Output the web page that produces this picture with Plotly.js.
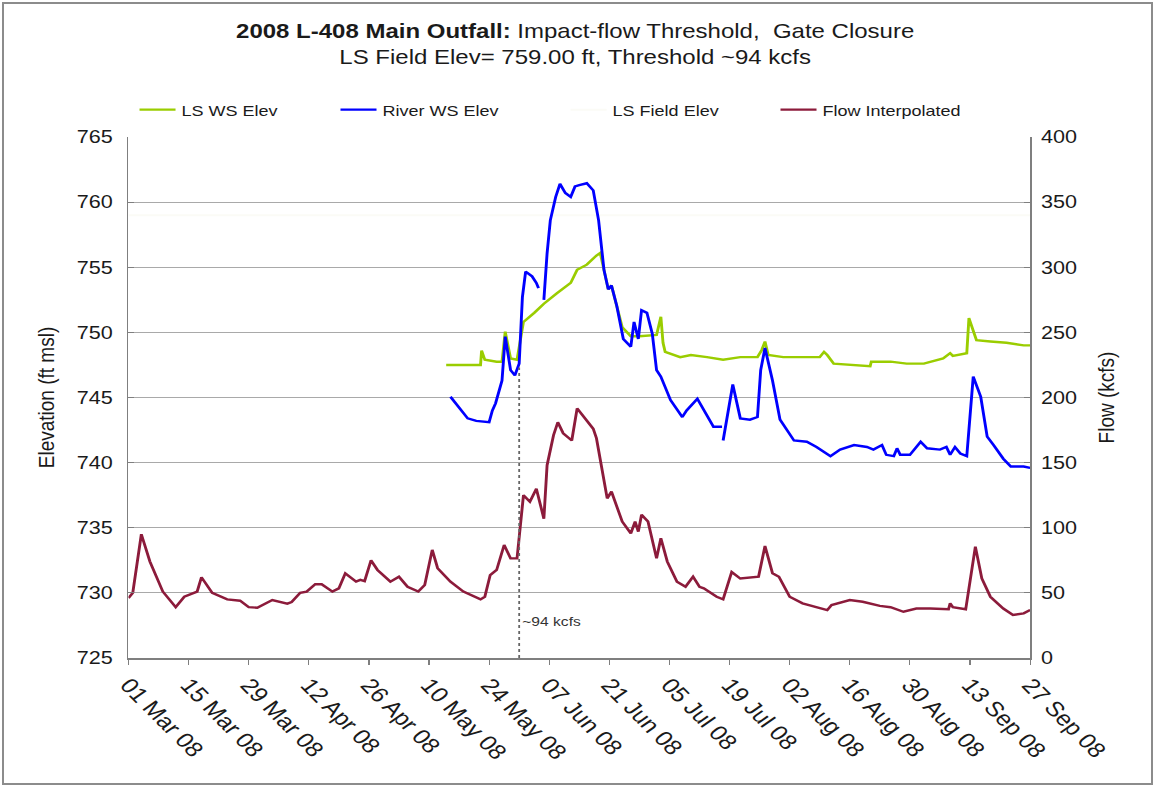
<!DOCTYPE html>
<html>
<head>
<meta charset="utf-8">
<script src="https://cdn.plot.ly/plotly-3.0.1.min.js"></script>
<style>
  html, body { margin:0; padding:0; background:#fff; overflow:hidden; }
  #wrap { position:relative; width:1155px; height:787px; overflow:hidden; background:#fff; }
  #chart { position:absolute; left:0; top:0; width:962px; height:787px; transform:scaleX(1.2006); transform-origin:0 0; }
  #frame { position:absolute; left:2px; top:2px; width:1147px; height:779px; border:2px solid #8c8c8c; pointer-events:none; }
</style>
</head>
<body>
<div id="wrap">
  <div id="chart"></div>
  <div id="frame"></div>
</div>
<script>
// ---------- data ----------
const lsDates = ['2008-05-14','2008-05-22','2008-05-22 06:00','2008-05-23','2008-05-25 18:00','2008-05-27','2008-05-27 18:00','2008-05-29','2008-05-30 12:00','2008-06-01',
  '2008-06-03 12:00','2008-06-05 18:00','2008-06-08 18:00','2008-06-12','2008-06-13 12:00','2008-06-15 18:00','2008-06-18','2008-06-18 21:00','2008-06-19 18:00','2008-06-20 18:00',
  '2008-06-21 12:00','2008-06-22 18:00','2008-06-24','2008-06-26','2008-06-28','2008-07-02','2008-07-03','2008-07-03 12:00','2008-07-04','2008-07-07 12:00',
  '2008-07-10','2008-07-13 18:00','2008-07-17 12:00','2008-07-21 12:00','2008-07-25 12:00','2008-07-26 12:00','2008-07-27 06:00','2008-07-28','2008-07-31 12:00','2008-08-04 12:00',
  '2008-08-09','2008-08-10','2008-08-10 18:00','2008-08-12 06:00','2008-08-16','2008-08-20 18:00','2008-08-21','2008-08-25 12:00','2008-08-29 06:00','2008-09-02 06:00',
  '2008-09-06 18:00','2008-09-08 09:00','2008-09-09','2008-09-12 06:00','2008-09-12 18:00','2008-09-14 12:00','2008-09-17 18:00','2008-09-21 12:00','2008-09-25 12:00','2008-09-27'];
const lsValues = [747.5,747.5,748.6,747.9,747.75,747.75,750.05,748.0,747.9,750.8,
  751.5,752.2,753.0,753.8,754.8,755.2,755.9,756.1,754.8,753.3,
  753.6,752.0,750.4,749.7,749.7,749.8,751.2,749.2,748.5,748.1,
  748.26,748.1,747.9,748.1,748.1,748.65,749.3,748.26,748.1,748.1,
  748.1,748.5,748.26,747.6,747.5,747.4,747.75,747.75,747.6,747.6,
  748.0,748.4,748.2,748.4,751.1,749.4,749.3,749.2,749.0,749.0];

const riverDates = ['2008-05-15','2008-05-19','2008-05-21','2008-05-24','2008-05-24 18:00','2008-05-25 12:00','2008-05-27','2008-05-27 18:00','2008-05-29','2008-05-30',
  '2008-05-31','2008-05-31 18:00','2008-06-01 12:00','2008-06-03','2008-06-04','2008-06-04 12:00','2008-06-04 18:00','2008-06-05 18:00','2008-06-06 12:00','2008-06-07 06:00',
  '2008-06-08 12:00','2008-06-09 12:00','2008-06-10 18:00','2008-06-12','2008-06-13','2008-06-14','2008-06-15 18:00','2008-06-17 06:00','2008-06-18 12:00','2008-06-19 18:00',
  '2008-06-20 18:00','2008-06-21 12:00','2008-06-22 18:00','2008-06-24 06:00','2008-06-26','2008-06-26 18:00','2008-06-27 18:00','2008-06-28 12:00','2008-06-29 18:00','2008-07-01',
  '2008-07-02','2008-07-03','2008-07-05 06:00','2008-07-08','2008-07-09','2008-07-11 12:00','2008-07-13 18:00','2008-07-15 06:00','2008-07-17 06:00','2008-07-17 09:00',
  '2008-07-17 12:00','2008-07-19 18:00','2008-07-21 12:00','2008-07-23 18:00','2008-07-25 12:00','2008-07-26 06:00','2008-07-27 06:00','2008-07-29','2008-07-30 18:00','2008-08-03',
  '2008-08-06','2008-08-08 06:00','2008-08-11 12:00','2008-08-13 18:00','2008-08-17','2008-08-20','2008-08-21 12:00','2008-08-23 12:00','2008-08-24 12:00','2008-08-26 06:00',
  '2008-08-27','2008-08-27 18:00','2008-08-30','2008-09-01 12:00','2008-09-03','2008-09-06','2008-09-07 12:00','2008-09-08 09:00','2008-09-09 12:00','2008-09-10 18:00',
  '2008-09-12 06:00','2008-09-13 18:00','2008-09-15 12:00','2008-09-17','2008-09-18 12:00','2008-09-20 18:00','2008-09-22 12:00','2008-09-25 12:00','2008-09-27'];
const riverValues = [745.06,743.4,743.2,743.1,744.0,744.55,746.3,749.67,747.1,746.7,
  747.6,752.7,754.66,754.3,753.8,753.4,null,752.5,756.07,758.6,
  760.4,761.4,760.7,760.4,761.2,761.3,761.45,760.9,758.6,754.8,
  753.3,753.6,752.0,749.5,748.9,750.8,749.5,751.7,751.5,749.9,
  747.1,746.6,744.8,743.5,744.0,744.9,743.65,742.76,742.76,null,
  741.7,746.0,743.4,743.3,743.5,747.1,748.8,746.3,743.3,741.7,
  741.6,741.2,740.5,741.0,741.35,741.2,741.0,741.35,740.6,740.5,
  741.1,740.6,740.6,741.6,741.1,741.0,741.2,740.6,741.2,740.7,
  740.5,746.6,745.06,742.0,741.35,740.3,739.7,739.7,739.6];

const fieldDates = ['2008-03-01','2008-09-27'];
const fieldValues = [759.0, 759.0];

const flowDates = ['2008-03-01','2008-03-02','2008-03-04','2008-03-06','2008-03-09','2008-03-12','2008-03-14','2008-03-17','2008-03-18','2008-03-20 12:00',
  '2008-03-24','2008-03-27','2008-03-29','2008-03-31','2008-04-03 12:00','2008-04-07','2008-04-08','2008-04-10','2008-04-11 12:00','2008-04-13 12:00',
  '2008-04-15','2008-04-17 12:00','2008-04-19','2008-04-20 12:00','2008-04-23','2008-04-24','2008-04-25','2008-04-26 12:00','2008-04-28','2008-05-01',
  '2008-05-03','2008-05-05','2008-05-07 12:00','2008-05-09','2008-05-10 18:00','2008-05-12','2008-05-15','2008-05-18','2008-05-22','2008-05-23',
  '2008-05-24 06:00','2008-05-25 18:00','2008-05-27 12:00','2008-05-29','2008-05-30 12:00','2008-06-01','2008-06-02 12:00','2008-06-04','2008-06-05 18:00','2008-06-06 12:00',
  '2008-06-08','2008-06-09','2008-06-10 06:00','2008-06-12 06:00','2008-06-13 12:00','2008-06-15','2008-06-17 06:00','2008-06-18','2008-06-20 12:00','2008-06-21 12:00',
  '2008-06-24','2008-06-26','2008-06-27','2008-06-27 18:00','2008-06-28 12:00','2008-06-30','2008-07-02','2008-07-03','2008-07-04 12:00','2008-07-06 18:00',
  '2008-07-08 18:00','2008-07-10 12:00','2008-07-12','2008-07-13','2008-07-16','2008-07-17 12:00','2008-07-19 12:00','2008-07-21 12:00','2008-07-25 18:00','2008-07-27 06:00',
  '2008-07-29','2008-07-30 12:00','2008-08-02','2008-08-05','2008-08-10 18:00','2008-08-11 18:00','2008-08-16','2008-08-19','2008-08-23','2008-08-25 12:00',
  '2008-08-28 12:00','2008-08-31 12:00','2008-09-03 18:00','2008-09-08','2008-09-08 09:00','2008-09-09','2008-09-12','2008-09-14 06:00','2008-09-15 18:00','2008-09-17 18:00',
  '2008-09-20 18:00','2008-09-23','2008-09-25 12:00','2008-09-27'];
const flowValues = [46,50,95,74,51,39,47,51,62,50,
  45,44,39,38.6,44.5,41.7,43,50,51,56.6,
  56.6,51,53.5,65,58.6,60,59,75,67.6,58.6,
  62.4,54.7,51,56,83,69,58.6,51,45,47,
  63.7,67.6,86.8,76.5,76.5,125,120,130,107,148,
  171,181,172.5,167,191.7,185,176,168.7,122.6,127.7,
  104.7,95.7,104.7,97,110,104.7,76.5,92,74,58.6,
  54.7,62.4,54.7,53.5,47,45,66,61,62.4,86,
  65,62.4,47,42,36.8,40.7,44.5,43.2,40,39,
  35.5,38,38,37.4,42,39,37.4,85.5,61,47,
  38,33,34.3,36.8];

const thresholdDate = '2008-05-31';
const thresholdElev = 747.3;
const thresholdLabel = '~94 kcfs';

const titleText = '<b>2008 L-408 Main Outfall:</b> Impact-flow Threshold,  Gate Closure<br>LS Field Elev= 759.00 ft, Threshold ~94 kcfs';

// ---------- chart ----------
const FONT = 'Liberation Sans, Arial, sans-serif';
const AXC = '#7f7f7f';
const TXT = '#1a1a1a';

const traces = [
  {x: fieldDates, y: fieldValues, name: 'LS Field Elev', type: 'scatter', mode: 'lines',
   line: {color: '#fbfbf6', width: 2}, yaxis: 'y', legend: 'legend3'},
  {x: lsDates, y: lsValues, name: 'LS WS Elev', type: 'scatter', mode: 'lines',
   line: {color: '#9acd00', width: 2.4}, yaxis: 'y', legend: 'legend'},
  {x: riverDates, y: riverValues, name: 'River WS Elev', type: 'scatter', mode: 'lines',
   line: {color: '#0000ff', width: 2.4}, yaxis: 'y', connectgaps: false, legend: 'legend2'},
  {x: flowDates, y: flowValues, name: 'Flow Interpolated', type: 'scatter', mode: 'lines',
   line: {color: '#8c1b3b', width: 2.4}, yaxis: 'y2', legend: 'legend4'}
];

function leg(xp) {
  return {orientation: 'h', x: xp, xanchor: 'left', y: 1.052, yanchor: 'middle',
          font: {family: FONT, size: 15, color: TXT}, bgcolor: 'rgba(0,0,0,0)', borderwidth: 0};
}

const layout = {
  width: 962, height: 787,
  margin: {l: 107, r: 104, t: 137, b: 129, pad: 0},
  paper_bgcolor: '#ffffff', plot_bgcolor: '#ffffff',
  font: {family: FONT, color: TXT, size: 15},
  showlegend: true,
  title: {text: titleText, x: 0.498, xref: 'container', xanchor: 'center',
          y: 0.952, yref: 'container', yanchor: 'top',
          font: {family: FONT, size: 20, color: TXT}},
  legend: leg(0.0056),
  legend2: leg(0.2285),
  legend3: leg(0.4837),
  legend4: leg(0.7165),
  xaxis: {type: 'date', range: ['2008-03-01', '2008-09-27'],
          tick0: '2008-03-01', dtick: 14 * 86400000, tickformat: '%d %b %y',
          tickangle: 50, ticks: 'outside', ticklen: 5, tickcolor: AXC, tickwidth: 1,
          showline: true, linecolor: AXC, linewidth: 1.5, showgrid: false, zeroline: false,
          tickfont: {family: FONT, size: 21, color: TXT}},
  yaxis: {range: [725, 765], dtick: 5, tick0: 725, ticks: 'inside', ticklen: 5, tickcolor: AXC,
          showline: true, linecolor: AXC, linewidth: 1.5, showgrid: true, gridcolor: '#a9a9a9', gridwidth: 1,
          zeroline: false, ticklabelstandoff: 8,
          tickfont: {family: FONT, size: 18, color: TXT},
          title: {text: 'Elevation (ft msl)', standoff: 13, font: {family: FONT, size: 19, color: TXT}}},
  yaxis2: {overlaying: 'y', side: 'right', range: [0, 400], dtick: 50, tick0: 0,
           ticks: 'inside', ticklen: 5, tickcolor: AXC, showline: true, linecolor: AXC, linewidth: 1.5,
           showgrid: false, zeroline: false, ticklabelstandoff: 4,
           tickfont: {family: FONT, size: 18, color: TXT},
           title: {text: 'Flow (kcfs)', standoff: 18, font: {family: FONT, size: 19, color: TXT}}},
  shapes: [
    {type: 'line', xref: 'x', yref: 'y', x0: thresholdDate, x1: thresholdDate, y0: 725, y1: thresholdElev,
     line: {color: '#666666', width: 1.5, dash: 'dot'}}
  ],
  annotations: [
    {xref: 'x', yref: 'y', x: thresholdDate, y: 727.8, text: thresholdLabel, showarrow: false,
     xanchor: 'left', yanchor: 'middle', xshift: 1,
     font: {family: FONT, size: 13, color: '#333333'}}
  ]
};

Plotly.newPlot('chart', traces, layout, {staticPlot: true, displayModeBar: false, responsive: false});
</script>
</body>
</html>
